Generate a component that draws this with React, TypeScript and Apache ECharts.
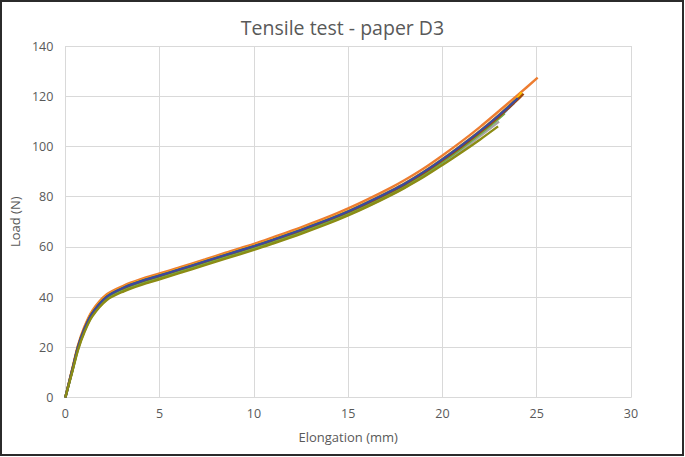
import React, { useEffect, useRef } from "react";
import * as echarts from "echarts";

const titleText = "Tensile test - paper D3";
const xName = "Elongation (mm)";
const yName = "Load (N)";

const elongation = [0, 0.2, 0.37, 0.67, 1.0, 1.43, 2.2, 3.1, 4, 5, 6, 7.4, 8.5, 10, 11, 12.5, 14, 15, 16, 17.3, 18, 19, 20, 21, 22, 23, 24];

const loadBlue = [0, 6, 11, 20, 27, 33.5, 40, 43.5, 46, 48.3, 50.6, 53.9, 56.5, 60.0, 62.5, 66.4, 70.6, 73.7, 77.1, 81.9, 84.7, 89.2, 94.3, 99.7, 105.5, 111.7];
const endBlue = [23.8, 117.3];

const loadOrange = [0, 6.3, 11.5, 20.8, 28, 34.6, 41.1, 44.6, 47.1, 49.4, 51.7, 55.0, 57.7, 61.2, 63.8, 67.8, 72.1, 75.3, 78.8, 83.7, 86.6, 91.2, 96.4, 101.9, 107.8, 114.1, 120.5];
const endOrange = [25.05, 127.4];

const loadGray = [0, 5.7, 10.5, 19.2, 26.1, 32.6, 39.1, 42.6, 45.1, 47.4, 49.7, 53.0, 55.6, 59.1, 61.6, 65.5, 69.7, 72.8, 76.1, 80.9, 83.7, 88.1, 93.1, 98.4, 104.1];
const endGray = [23.0, 109.9];

const loadYellow = [0, 6.1, 11.2, 20.4, 27.4, 34, 40.5, 44, 46.5, 48.8, 51.1, 54.4, 57, 60.5, 63, 67, 71.2, 74.3, 77.7, 82.5, 85.3, 89.9, 95, 100.5, 106.3, 112.6, 119.5];
const endYellow = [24.2, 121.5];

const loadLightBlue = [0, 5.9, 10.8, 19.7, 26.7, 33.2, 39.7, 43.2, 45.7, 48, 50.3, 53.6, 56.2, 59.7, 62.2, 66.1, 70.3, 73.4, 76.8, 81.6, 84.4, 88.9, 94, 99.4, 105.2, 111.4];
const endLightBlue = [23.4, 114.3];

const loadGreen = [0, 5.8, 10.6, 19.5, 26.5, 33, 39.5, 43, 45.5, 47.8, 50.1, 53.4, 56, 59.5, 62, 65.9, 70.1, 73.2, 76.6, 81.4, 84.2, 88.7, 93.8, 99.2, 105, 111.2];
const endGreen = [23.3, 113.2];

const loadDarkBlue = [0, 6, 11, 20.1, 27.1, 33.6, 40.2, 43.8, 46.3, 48.6, 50.9, 54.2, 56.8, 60.3, 62.8, 66.8, 71, 74.1, 77.6, 82.4, 85.2, 89.8, 94.9, 100.4, 106.2, 112.5, 119.2];
const endDarkBlue = [24.0, 119.2];

const loadDarkRed = [0, 6, 11.1, 20.2, 27.2, 33.7, 40.2, 43.7, 46.2, 48.5, 50.8, 54.1, 56.7, 60.2, 62.7, 66.6, 70.8, 73.9, 77.3, 82.1, 84.9, 89.4, 94.5, 99.9, 105.7, 111.9, 118.7];
const endDarkRed = [24.3, 121.0];

const loadOlive = [0, 5.6, 10.3, 18.9, 25.8, 32.3, 38.8, 42.3, 44.8, 47.1, 49.4, 52.7, 55.3, 58.8, 61.3, 65.2, 69.4, 72.5, 75.9, 80.7, 83.5, 87.8, 92.6, 97.6, 102.8];
const endOlive = [22.95, 108.0];

const seriesDefs = [
  { name: "Sample 1", color: "#4472C4", load: loadBlue, end: endBlue },
  { name: "Sample 2", color: "#ED7D31", load: loadOrange, end: endOrange },
  { name: "Sample 3", color: "#A5A5A5", load: loadGray, end: endGray },
  { name: "Sample 4", color: "#FFC000", load: loadYellow, end: endYellow },
  { name: "Sample 5", color: "#5B9BD5", load: loadLightBlue, end: endLightBlue },
  { name: "Sample 6", color: "#70AD47", load: loadGreen, end: endGreen },
  { name: "Sample 8", color: "#9E480E", load: loadDarkRed, end: endDarkRed },
  { name: "Sample 7", color: "#3A4A9E", load: loadDarkBlue, end: endDarkBlue },
  { name: "Sample 9", color: "#8C8C14", load: loadOlive, end: endOlive },
];

const FONT = "'Open Sans', 'Noto Sans', sans-serif";
const TXT = "#595959";
const GRID = "#D9D9D9";

export default function App() {
  const ref = useRef<HTMLDivElement>(null);
  useEffect(() => {
    document.body.style.margin = "0";
    if (!ref.current) return;
    const chart = echarts.init(ref.current, null, { renderer: "svg" });
    chart.setOption({
      animation: false,
      backgroundColor: "#ffffff",
      title: {
        text: titleText,
        left: "center",
        top: 12,
        textStyle: { fontFamily: FONT, fontSize: 19.5, fontWeight: "normal", color: TXT },
      },
      graphic: [
        {
          type: "rect",
          shape: { x: 1, y: 1, width: 682, height: 454 },
          style: { fill: "none", stroke: "#2b2b2b", lineWidth: 2 },
          silent: true,
        },
      ],
      grid: { left: 63, right: 54, top: 46, bottom: 59.5, containLabel: false },
      xAxis: {
        type: "value",
        min: 0,
        max: 30,
        interval: 5,
        name: xName,
        nameLocation: "middle",
        nameGap: 33,
        nameTextStyle: { fontFamily: FONT, fontSize: 13, color: TXT },
        axisLine: { show: true, lineStyle: { color: GRID, width: 1 } },
        axisTick: { show: false },
        axisLabel: { fontFamily: FONT, fontSize: 12.5, color: TXT, margin: 9 },
        splitLine: { show: true, lineStyle: { color: GRID, width: 1 } },
      },
      yAxis: {
        type: "value",
        min: 0,
        max: 140,
        interval: 20,
        name: yName,
        nameLocation: "middle",
        nameGap: 36,
        nameRotate: 90,
        nameTextStyle: { fontFamily: FONT, fontSize: 13, color: TXT },
        axisLine: { show: false },
        axisTick: { show: false },
        axisLabel: { fontFamily: FONT, fontSize: 12.5, color: TXT, margin: 12 },
        splitLine: { show: true, lineStyle: { color: GRID, width: 1 } },
      },
      series: seriesDefs.map((s) => {
        const data = s.load.map((v, i) => [elongation[i], v]);
        data.push(s.end);
        return {
          name: s.name,
          type: "line",
          data,
          smooth: 0.3,
          showSymbol: false,
          symbol: "none",
          lineStyle: { color: s.color, width: 2.4 },
          itemStyle: { color: s.color },
        };
      }),
    });
    return () => chart.dispose();
  }, []);
  return (
    <div style={{ position: "absolute", left: 0, top: 0, width: 685, height: 457, background: "#fff" }}>
      <div ref={ref} style={{ width: 685, height: 457 }} />
    </div>
  );
}
